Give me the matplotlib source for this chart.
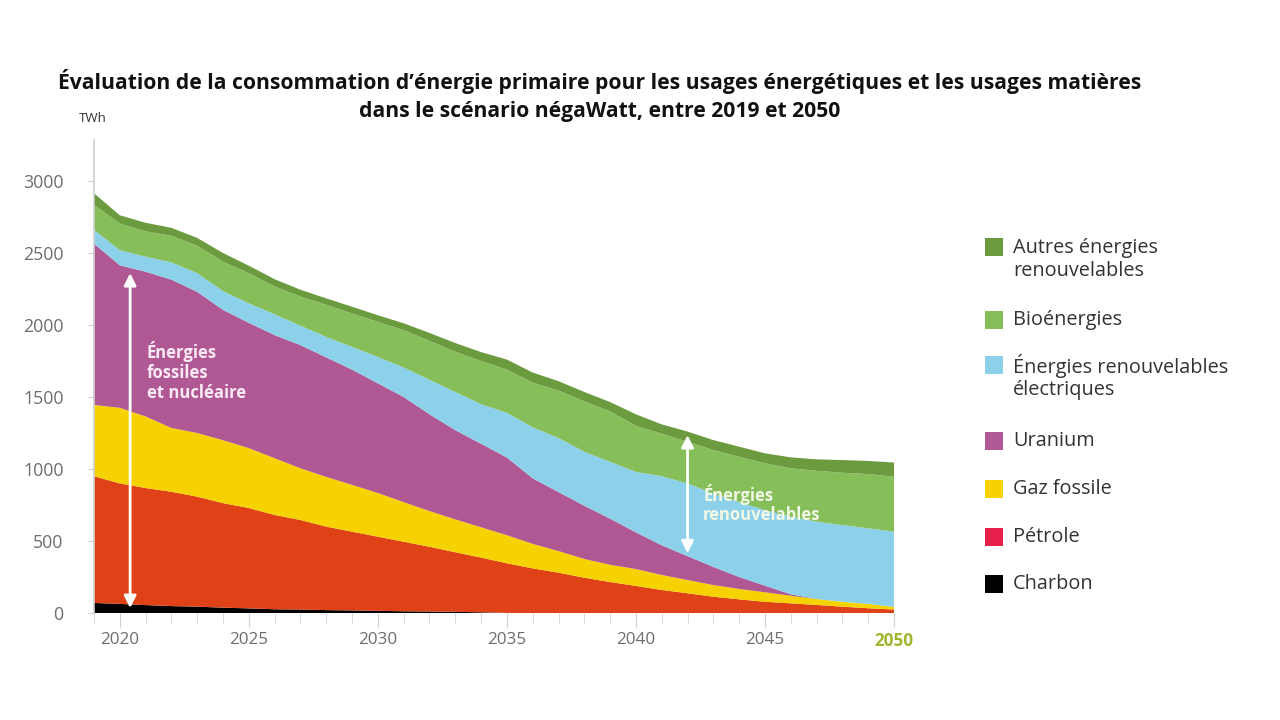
import matplotlib
matplotlib.use("Agg")
import matplotlib.pyplot as plt
from matplotlib.patches import Rectangle

plt.rcParams['font.family'] = ['Open Sans', 'DejaVu Sans']

# Données (TWh)
annees = list(range(2019, 2051))

charbon = [70, 63, 55, 48, 44, 37, 32, 26, 24, 20, 18, 15, 12, 10, 8, 5,
           0, 0, 0, 0, 0, 0, 0, 0, 0, 0, 0, 0, 0, 0, 0, 0]
petrole = [880, 837, 813, 794, 764, 726, 697, 655, 622, 580, 547, 515, 483, 450, 414, 380,
           345, 310, 280, 245, 215, 188, 160, 137, 113, 95, 78, 67, 56, 44, 33, 24]
gaz = [495, 525, 497, 443, 442, 437, 416, 394, 359, 345, 325, 303, 275, 248, 228, 210,
       195, 170, 150, 130, 120, 117, 104, 92, 81, 72, 66, 53, 41, 34, 30, 18]
uranium = [1120, 990, 1005, 1030, 980, 905, 870, 855, 855, 830, 800, 762, 730, 672, 620, 580,
           540, 455, 410, 370, 320, 255, 206, 166, 126, 83, 46, 10, 0, 0, 0, 0]
enr_elec = [95, 105, 105, 120, 130, 130, 135, 145, 135, 143, 158, 183, 205, 240, 265, 275,
            310, 355, 375, 375, 395, 420, 480, 505, 510, 520, 525, 539, 537, 533, 525, 523]
bioenergies = [175, 185, 175, 185, 190, 205, 210, 193, 203, 222, 232, 244, 260, 270, 280, 300,
               300, 310, 330, 350, 350, 320, 295, 290, 302, 315, 325, 336, 354, 363, 377, 382]
autres_enr = [80, 57, 60, 55, 55, 60, 52, 50, 47, 45, 47, 46, 47, 55, 60, 62,
              70, 70, 65, 65, 65, 80, 65, 70, 69, 70, 69, 76, 79, 88, 91, 98]

series = [charbon, petrole, gaz, uranium, enr_elec, bioenergies, autres_enr]
couleurs = ['#000000', '#e04218', '#f6d200', '#b05893', '#8dd0ea', '#86bf5a', '#6b9a3f']

legende_noms = ['Autres énergies\nrenouvelables', 'Bioénergies',
                'Énergies renouvelables\nélectriques', 'Uranium', 'Gaz fossile',
                'Pétrole', 'Charbon']
legende_couleurs = ['#6b9a3f', '#86bf5a', '#8dd0ea', '#b05893', '#f6d200', '#e6204a', '#000000']
legende_y = [259, 320, 377, 441, 489, 537, 584]

titre = ["Évaluation de la consommation d’énergie primaire pour les usages énergétiques et les usages matières",
         "dans le scénario négaWatt, entre 2019 et 2050"]

fig = plt.figure(figsize=(12.8, 7.2), dpi=100)
ax = fig.add_axes([94 / 1280, 1 - 613 / 720, 800 / 1280, 473 / 720])

ax.stackplot(annees, *series, colors=couleurs, linewidth=0)

ax.set_xlim(2019, 2050)
ax.set_ylim(0, 3285)

for s in ['top', 'right', 'bottom']:
    ax.spines[s].set_visible(False)
ax.spines['left'].set_color('#d0d0d0')
ax.spines['left'].set_linewidth(1.2)

ax.set_yticks(range(0, 3001, 500))
ax.set_yticklabels([str(v) for v in range(0, 3001, 500)])
ax.tick_params(axis='y', length=4, color='#d0d0d0', pad=18, labelsize=12.8, labelcolor='#6e6e6e')

ax.set_xticks(range(2020, 2051, 5))
ax.set_xticks(annees, minor=True)
ax.tick_params(axis='x', which='major', length=10, color='#d0d0d0', pad=4,
               labelsize=12.3, labelcolor='#6e6e6e')
ax.tick_params(axis='x', which='minor', length=7, color='#d0d0d0')
lab2050 = ax.get_xticklabels()[-1]
lab2050.set_color('#a3b530')
lab2050.set_fontweight('bold')

fig.text(93 / 1280, 1 - 118 / 720, 'TWh', fontsize=9.5, color='#333333', ha='center', va='center')

# flèches et annotations
ax.annotate('', xy=(2020.4, 2380), xytext=(2020.4, 15),
            arrowprops=dict(arrowstyle='<|-|>', color='white', lw=2, mutation_scale=18))
ax.text(2021.05, 1680, 'Énergies\nfossiles\net nucléaire', color='#fbeaf5', fontsize=12,
        fontweight='bold', ha='left', va='center', linespacing=1.15)

ax.annotate('', xy=(2042.0, 1255), xytext=(2042.0, 395),
            arrowprops=dict(arrowstyle='<|-|>', color='white', lw=2, mutation_scale=18))
ax.text(2042.6, 755, 'Énergies\nrenouvelables', color='#f2f8e6', fontsize=12,
        fontweight='bold', ha='left', va='center', linespacing=1.1)

for ligne, py in zip(titre, [82, 112]):
    fig.text(600 / 1280, 1 - py / 720, ligne, ha='center', va='center', fontsize=15.2,
             fontweight='bold', color='#111111')

# légende
for nom, c, py in zip(legende_noms, legende_couleurs, legende_y):
    premiere = py if '\n' not in nom else py - 12
    fig.add_artist(Rectangle((985 / 1280, 1 - (premiere + 9) / 720), 18 / 1280, 18 / 720,
                             transform=fig.transFigure, facecolor=c, edgecolor='none'))
    fig.text(1013 / 1280, 1 - py / 720, nom, fontsize=14.3, color='#333333',
             ha='left', va='center', linespacing=1.2)

fig.savefig('out.png', dpi=100)
